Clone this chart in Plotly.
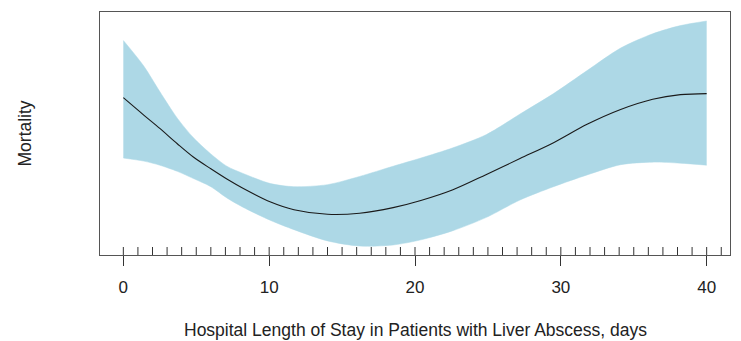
import plotly.graph_objects as go

# Hospital length of stay (days) at which the smooth was read
los_days = [0, 1.4, 2.5, 3.7, 4.8, 6.0, 7.1, 8.2, 10.1, 11.7, 14.0, 16.2, 18.5,
            20.4, 22.6, 24.9, 27.2, 29.5, 31.8, 34.1, 36.3, 38.2, 40]
# Estimated mortality (relative scale, no axis ticks in the source)
mortality_fit = [1.62, 1.45, 1.32, 1.17, 1.04, 0.925, 0.825, 0.735, 0.60, 0.525, 0.48, 0.49, 0.545,
                 0.615, 0.72, 0.87, 1.025, 1.18, 1.36, 1.505, 1.605, 1.65, 1.66]
ci_upper = [2.18, 1.93, 1.68, 1.42, 1.23, 1.07, 0.95, 0.88, 0.78, 0.75, 0.77, 0.85, 0.95,
            1.03, 1.13, 1.26, 1.46, 1.66, 1.885, 2.105, 2.245, 2.325, 2.37]
ci_lower = [1.03, 1.00, 0.96, 0.90, 0.83, 0.75, 0.64, 0.55, 0.42, 0.33, 0.22, 0.17, 0.18,
            0.23, 0.32, 0.45, 0.62, 0.75, 0.865, 0.965, 0.99, 0.98, 0.96]
# Rug of observed lengths of stay
rug_days = list(range(0, 42))
x_ticks = [0, 10, 20, 30, 40]

FONT = "Arial, Liberation Sans, sans-serif"
BAND = "#ADD8E6"

# R-style 4% padding of the ranges
xmin, xmax = min(los_days), max(los_days)
xpad = 0.04 * (xmax - xmin)
ymin, ymax = min(ci_lower), max(ci_upper)
ypad = 0.04 * (ymax - ymin)

fig = go.Figure()
fig.add_trace(go.Scatter(
    x=los_days, y=ci_lower, mode="lines",
    line=dict(color=BAND, width=0.5, shape="spline", smoothing=0.8),
    hoverinfo="skip", showlegend=False))
fig.add_trace(go.Scatter(
    x=los_days, y=ci_upper, mode="lines", fill="tonexty", fillcolor=BAND,
    line=dict(color=BAND, width=0.5, shape="spline", smoothing=0.8),
    hoverinfo="skip", showlegend=False))
fig.add_trace(go.Scatter(
    x=los_days, y=mortality_fit, mode="lines",
    line=dict(color="#1a1a1a", width=1.1, shape="spline", smoothing=0.9),
    showlegend=False))

for d in rug_days:
    fig.add_shape(type="line", xref="x", yref="paper", x0=d, x1=d, y0=0, y1=8 / 243,
                  line=dict(color="#333333", width=1))

fig.update_xaxes(range=[xmin - xpad, xmax + xpad], tickvals=x_ticks,
                 ticks="outside", ticklen=10, tickwidth=1, tickcolor="#333333",
                 ticklabelstandoff=7,
                 showline=True, linecolor="#555555", linewidth=1, mirror=True,
                 showgrid=False, zeroline=False,
                 tickfont=dict(family=FONT, size=17, color="#222222"))
fig.update_yaxes(range=[ymin - ypad, ymax + ypad], showticklabels=False, ticks="",
                 showline=True, linecolor="#555555", linewidth=1, mirror=True,
                 showgrid=False, zeroline=False)

fig.add_annotation(text="Mortality", xref="paper", yref="paper", x=0, y=0.5,
                   xanchor="center", yanchor="middle", xshift=-76, textangle=-90,
                   showarrow=False, font=dict(family=FONT, size=17.5, color="#222222"))
fig.add_annotation(text="Hospital Length of Stay in Patients with Liver Abscess, days",
                   xref="paper", yref="paper", x=0.5, y=0, xanchor="center", yanchor="middle",
                   yshift=-75, showarrow=False,
                   font=dict(family=FONT, size=17.5, color="#222222"))

# page body has an 8px margin; compensate so the plot box lands at 100..730 x 12..255
fig.update_layout(width=733, height=333, margin=dict(l=92, r=11, t=4, b=86),
                  plot_bgcolor="white", paper_bgcolor="white")

fig.write_html("out.html")
